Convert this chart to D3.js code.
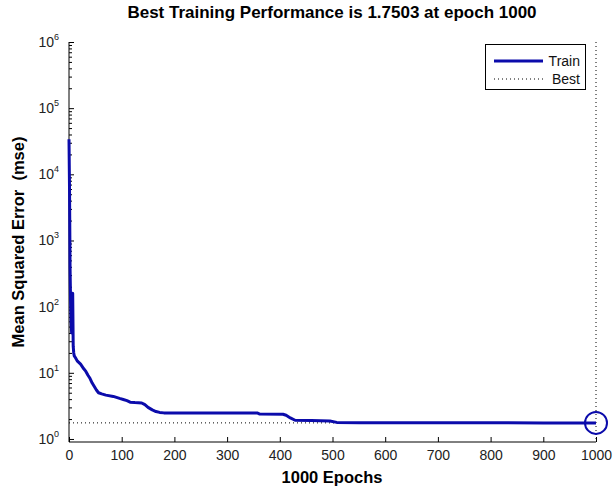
<!DOCTYPE html>
<html>
<head>
<meta charset="utf-8">
<script src="https://cdn.jsdelivr.net/npm/d3@7/dist/d3.min.js"></script>
<style>
  html, body { margin: 0; padding: 0; background: #fff; }
  svg { display: block; font-family: "Liberation Sans", Arial, Helvetica, sans-serif; }
</style>
</head>
<body>
<svg id="chart" width="614" height="491"></svg>
<script>
// ---- data ----
const epochs = [0, 1, 2, 3, 4, 5, 6, 7, 8, 9, 10, 12, 16, 22, 28, 32, 36, 40, 44, 48, 52, 56, 62, 70, 84, 96, 103, 110, 116, 125, 138, 144, 150, 158, 165, 172, 180, 250, 357, 362, 406, 412, 420, 429, 460, 495, 508, 552, 600, 700, 800, 900, 1000];
const trainMSE = [34000, 6000, 400, 120, 60, 40, 45, 160, 25, 20, 18, 17, 15, 13.5, 11.5, 10.5, 9.2, 8.2, 7.0, 6.2, 5.5, 5.0, 4.8, 4.6, 4.4, 4.1, 3.95, 3.8, 3.6, 3.55, 3.5, 3.3, 3.0, 2.75, 2.6, 2.52, 2.48, 2.48, 2.48, 2.38, 2.36, 2.28, 2.08, 1.92, 1.9, 1.87, 1.78, 1.76, 1.755, 1.754, 1.752, 1.751, 1.7503];
const bestEpoch = 1000;
const bestValue = 1.7503;
const xTicks = [0, 100, 200, 300, 400, 500, 600, 700, 800, 900, 1000];
const yExponents = [0, 1, 2, 3, 4, 5, 6];
const titleText = "Best Training Performance is 1.7503 at epoch 1000";
const xLabel = "1000 Epochs";
const yLabel = "Mean Squared Error  (mse)";
const legendNames = ["Train", "Best"];

// ---- drawing ----
const svg = d3.select("#chart");
const blue = "#0b0bab";

const x = d3.scaleLinear().domain([0, 1000]).range([69, 596]);
const y = d3.scaleLog().domain([0.9, 1e6]).range([442, 42]);

// x axis
const xAxis = d3.axisBottom(x).tickValues(xTicks).tickSize(-5).tickPadding(8).tickFormat(d3.format("d"));
const gx = svg.append("g").attr("transform", `translate(0,${442})`).call(xAxis);
gx.select(".domain").attr("stroke", "#000").attr("d", `M${69},0H${596}`);
gx.selectAll(".tick line").attr("stroke", "#000");
gx.selectAll(".tick text").attr("font-size", 14).attr("fill", "#222")
  .attr("font-family", "'Liberation Sans', Arial, sans-serif");

// y axis: major + minor ticks
const majors = yExponents.map(e => Math.pow(10, e));
const minors = [];
for (let e = 0; e < 6; e++) for (let m = 2; m <= 9; m++) minors.push(m * Math.pow(10, e));

const gyMinor = svg.append("g").attr("transform", `translate(${69},0)`)
  .call(d3.axisLeft(y).tickValues(minors).tickSize(-3).tickFormat(""));
gyMinor.select(".domain").remove();
const gy = svg.append("g").attr("transform", `translate(${69},0)`)
  .call(d3.axisLeft(y).tickValues(majors).tickSize(-5).tickFormat(""));
gy.select(".domain").attr("d", `M0,${42}V${442}`).attr("stroke", "#000");
svg.selectAll(".tick line").attr("stroke", "#000");

const ylab = svg.append("g");
yExponents.forEach(e => {
  const t = ylab.append("text")
    .attr("x", 59).attr("y", y(Math.pow(10, e)) + 5)
    .attr("text-anchor", "end").attr("fill", "#222");
  t.append("tspan").attr("font-size", 14).text("10");
  t.append("tspan").attr("font-size", 9).attr("dy", -7).text(e);
});

// best lines (dotted)
svg.append("line")
  .attr("x1", x(0)).attr("x2", x(1000))
  .attr("y1", y(bestValue)).attr("y2", y(bestValue))
  .attr("stroke", "#000").attr("stroke-width", 1).attr("stroke-dasharray", "1,3");
svg.append("line")
  .attr("x1", x(bestEpoch)).attr("x2", x(bestEpoch))
  .attr("y1", y(1e6)).attr("y2", 442)
  .attr("stroke", "#000").attr("stroke-width", 1).attr("stroke-dasharray", "1,3");

// train curve
const line = d3.line().x((d, i) => x(epochs[i])).y(d => y(d));
svg.append("path").datum(trainMSE)
  .attr("d", line).attr("fill", "none").attr("stroke", blue)
  .attr("stroke-width", 3).attr("stroke-linejoin", "round");

// best marker circle
svg.append("circle")
  .attr("cx", x(bestEpoch)).attr("cy", y(bestValue)).attr("r", 11)
  .attr("fill", "none").attr("stroke", blue).attr("stroke-width", 2);

// title and labels
svg.append("text").attr("x", 332).attr("y", 18).attr("text-anchor", "middle")
  .attr("font-size", 17).attr("font-weight", "bold").attr("fill", "#000").text(titleText);
svg.append("text").attr("x", 332).attr("y", 483).attr("text-anchor", "middle")
  .attr("font-size", 16.5).attr("font-weight", "bold").attr("fill", "#000").text(xLabel);
svg.append("text").attr("transform", `translate(24,242) rotate(-90)`).attr("text-anchor", "middle")
  .attr("font-size", 16.5).attr("font-weight", "bold").attr("fill", "#000")
  .style("white-space", "pre").text(yLabel);

// legend
const lg = svg.append("g");
lg.append("rect").attr("x", 485.5).attr("y", 44.5).attr("width", 100).attr("height", 45)
  .attr("fill", "#fff").attr("stroke", "#000").attr("stroke-width", 1);
lg.append("line").attr("x1", 494).attr("x2", 543).attr("y1", 61).attr("y2", 61)
  .attr("stroke", blue).attr("stroke-width", 3);
lg.append("line").attr("x1", 494).attr("x2", 543).attr("y1", 79).attr("y2", 79)
  .attr("stroke", "#000").attr("stroke-width", 1).attr("stroke-dasharray", "1,3");
legendNames.forEach((n, i) => {
  lg.append("text").attr("x", 580).attr("y", 66 + i * 18).attr("text-anchor", "end")
    .attr("font-size", 14).attr("fill", "#111").text(n);
});
</script>
</body>
</html>
